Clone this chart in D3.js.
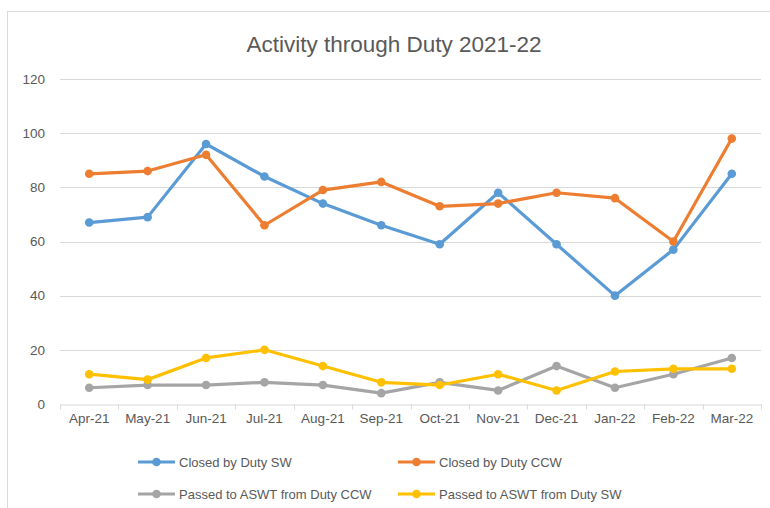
<!DOCTYPE html>
<html>
<head>
<meta charset="utf-8">
<script src="https://cdn.jsdelivr.net/npm/d3@7"></script>
<style>
  html, body { margin: 0; padding: 0; background: #fff; }
  svg { display: block; }
  text { font-family: "Liberation Sans", Arial, sans-serif; }
</style>
</head>
<body>
<svg id="chart" width="770" height="508"></svg>
<script>
const title = "Activity through Duty 2021-22";
const months = ["Apr-21","May-21","Jun-21","Jul-21","Aug-21","Sep-21","Oct-21","Nov-21","Dec-21","Jan-22","Feb-22","Mar-22"];
const yTicks = [0, 20, 40, 60, 80, 100, 120];
const seriesNames = ["Closed by Duty SW","Closed by Duty CCW","Passed to ASWT from Duty CCW","Passed to ASWT from Duty SW"];
const closedSW  = [67, 69, 96, 84, 74, 66, 59, 78, 59, 40, 57, 85];
const closedCCW = [85, 86, 92, 66, 79, 82, 73, 74, 78, 76, 60, 98];
const passedCCW = [6, 7, 7, 8, 7, 4, 8, 5, 14, 6, 11, 17];
const passedSW  = [11, 9, 17, 20, 14, 8, 7, 11, 5, 12, 13, 13];
const colors = ["#5B9BD5", "#ED7D31", "#A5A5A5", "#FFC000"];

const series = [closedSW, closedCCW, passedCCW, passedSW].map((v, i) => ({name: seriesNames[i], values: v, color: colors[i]}));

const svg = d3.select("#chart");

// chart frame
svg.append("rect").attr("x", 7.5).attr("y", 11.5).attr("width", 770).attr("height", 510)
  .attr("fill", "#fff").attr("stroke", "#d9d9d9").attr("stroke-width", 1);

const pLeft = 60, pRight = 761, pTop = 79, pBottom = 404;
const x = d3.scaleBand().domain(months).range([pLeft, pRight]).padding(0);
const y = d3.scaleLinear().domain([0, 120]).range([pBottom, pTop]);

// title
svg.append("text").attr("x", 394).attr("y", 52).attr("text-anchor", "middle")
  .attr("font-size", 22.5).attr("fill", "#595959").text(title);

// gridlines
svg.append("g").selectAll("line").data(yTicks.filter(d => d > 0)).join("line")
  .attr("x1", pLeft).attr("x2", pRight)
  .attr("y1", d => Math.round(y(d)) + 0.5).attr("y2", d => Math.round(y(d)) + 0.5)
  .attr("stroke", "#d9d9d9").attr("stroke-width", 1);

// y axis labels
const yAxis = d3.axisLeft(y).tickValues(yTicks).tickSize(0).tickPadding(0);
const gy = svg.append("g").attr("transform", `translate(${pLeft - 15},0)`).call(yAxis);
gy.select(".domain").remove();
gy.selectAll("text").attr("font-size", 13.5).attr("fill", "#595959")
  .attr("font-family", "Liberation Sans, Arial, sans-serif");

// x axis
const xAxis = d3.axisBottom(x).tickSize(0).tickPadding(0);
const gx = svg.append("g").attr("transform", `translate(0,${Math.round(pBottom) + 0.5})`).call(xAxis);
gx.select(".domain").attr("stroke", "#d9d9d9");
gx.selectAll(".tick line").remove();
gx.selectAll(".tick text").attr("font-size", 13.5).attr("fill", "#595959").attr("dy", "1.4em")
  .attr("font-family", "Liberation Sans, Arial, sans-serif");
// category boundary ticks
const bounds = months.map(m => x(m)).concat([pRight]);
gx.append("g").selectAll("line").data(bounds).join("line")
  .attr("x1", d => Math.round(d) + 0.5).attr("x2", d => Math.round(d) + 0.5)
  .attr("y1", 0).attr("y2", 5).attr("stroke", "#d9d9d9");

// lines
const line = d3.line().x((d, i) => x(months[i]) + x.bandwidth() / 2).y(d => y(d));
const gs = svg.append("g");
series.forEach(s => {
  const g = gs.append("g");
  g.append("path").attr("d", line(s.values)).attr("fill", "none")
    .attr("stroke", s.color).attr("stroke-width", 3.2).attr("stroke-linejoin", "round").attr("stroke-linecap", "round");
  g.selectAll("circle").data(s.values).join("circle")
    .attr("cx", (d, i) => x(months[i]) + x.bandwidth() / 2).attr("cy", d => y(d))
    .attr("r", 4.3).attr("fill", s.color);
});

// legend
const legendPos = [[138, 462], [398, 462], [138, 494], [398, 494]];
const lg = svg.append("g");
series.forEach((s, i) => {
  const [lx, ly] = legendPos[i];
  const g = lg.append("g").attr("transform", `translate(${lx},${ly})`);
  g.append("line").attr("x1", 0).attr("x2", 37).attr("y1", 0).attr("y2", 0)
    .attr("stroke", s.color).attr("stroke-width", 3.2);
  g.append("circle").attr("cx", 18.5).attr("cy", 0).attr("r", 4.3).attr("fill", s.color);
  g.append("text").attr("x", 41).attr("y", 0).attr("dy", "0.35em")
    .attr("font-size", 13).attr("fill", "#595959").text(s.name);
});
</script>
</body>
</html>
